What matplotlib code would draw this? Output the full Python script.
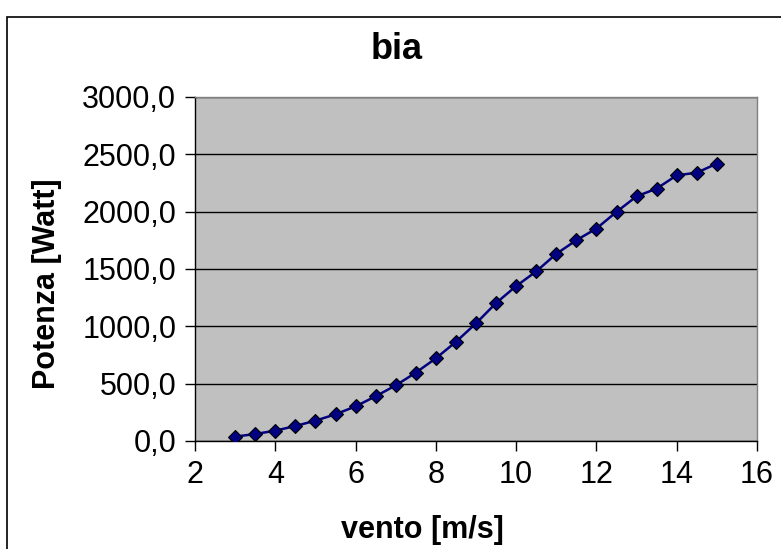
import matplotlib
matplotlib.use("Agg")
import matplotlib.pyplot as plt
from matplotlib.ticker import FuncFormatter, MultipleLocator
from matplotlib.patches import Rectangle

plt.rcParams['font.family'] = ['Liberation Sans', 'DejaVu Sans']

# dati
vento = [3.0, 3.5, 4.0, 4.5, 5.0, 5.5, 6.0, 6.5, 7.0, 7.5, 8.0, 8.5, 9.0,
         9.5, 10.0, 10.5, 11.0, 11.5, 12.0, 12.5, 13.0, 13.5, 14.0, 14.5, 15.0]
potenza = [38, 61, 90, 131, 177, 233, 302, 390, 485, 596, 721, 865, 1026,
           1203, 1351, 1479, 1632, 1751, 1853, 1998, 2134, 2201, 2317, 2340, 2419]

W, H = 781, 549
fig = plt.figure(figsize=(W / 100, H / 100), dpi=100)
fig.patch.set_facecolor('white')

# cornice del grafico
fig.patches.append(Rectangle((7 / W, -0.1), 1.2, 1 - 17 / H + 0.1,
                             transform=fig.transFigure, fill=False,
                             edgecolor='black', linewidth=1.2))

ax = fig.add_axes([195 / W, 1 - 441 / H, (757 - 195) / W, (441 - 97) / H])
ax.set_facecolor('#C0C0C0')

ax.plot(vento, potenza, color='#000080', linewidth=1.8, marker='D',
        markersize=7, markerfacecolor='#000080', markeredgecolor='black',
        markeredgewidth=0.8, zorder=3)

ax.set_xlim(2, 16)
ax.set_ylim(0, 3000)
ax.xaxis.set_major_locator(MultipleLocator(2))
ax.yaxis.set_major_locator(MultipleLocator(500))
ax.yaxis.set_major_formatter(FuncFormatter(lambda v, p: f"{v:.1f}".replace('.', ',')))
ax.xaxis.set_major_formatter(FuncFormatter(lambda v, p: f"{int(v)}"))

ax.grid(axis='y', color='black', linewidth=1.0)
ax.set_axisbelow(True)

ax.tick_params(axis='both', direction='out', length=7.5, width=1, labelsize=22,
               color='black')
ax.tick_params(axis='y', pad=6)
ax.tick_params(axis='x', pad=6)

for s in ['left', 'bottom']:
    ax.spines[s].set_color('black')
    ax.spines[s].set_linewidth(1.0)
for s in ['top', 'right']:
    ax.spines[s].set_color('#808080')
    ax.spines[s].set_linewidth(1.0)

fig.text(397 / W, 1 - 59 / H, 'bia', ha='center', va='baseline',
         fontsize=26, fontweight='bold')
fig.text(422 / W, 1 - 538 / H, 'vento [m/s]', ha='center', va='baseline',
         fontsize=22, fontweight='bold')
fig.text(47 / W, 1 - 284 / H, 'Potenza [Watt]', ha='center', va='center',
         rotation=90, fontsize=22, fontweight='bold')

fig.savefig('out.png', dpi=100)
